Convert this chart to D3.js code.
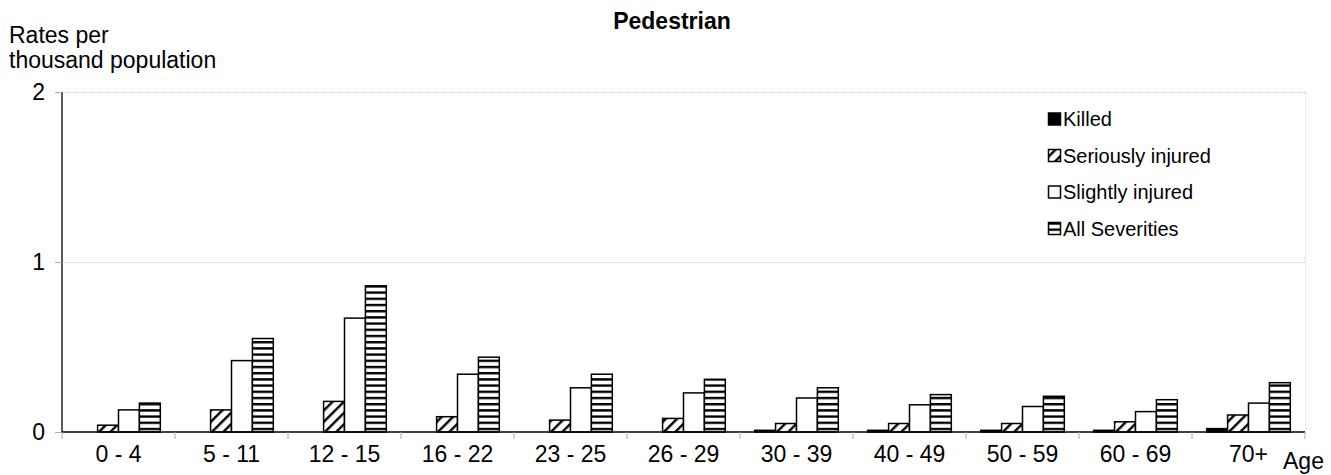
<!DOCTYPE html>
<html>
<head>
<meta charset="utf-8">
<script src="https://d3js.org/d3.v7.min.js"></script>
<style>
  body { margin: 0; background: #fff; }
  svg { font-family: 'Liberation Sans', Arial, sans-serif; }
</style>
</head>
<body>
<div id="chart"></div>
<script>
// age bands and rates per thousand population
var ages = ["0 - 4", "5  - 11", "12 - 15", "16 - 22", "23 - 25", "26 - 29", "30 - 39", "40 - 49", "50 - 59", "60 - 69", "70+"];
var seriesNames = ["Killed", "Seriously injured", "Slightly injured", "All Severities"];
var killed   = [0.00, 0.00, 0.00, 0.00, 0.00, 0.00, 0.01, 0.01, 0.01, 0.01, 0.02];
var serious  = [0.04, 0.13, 0.18, 0.09, 0.07, 0.08, 0.05, 0.05, 0.05, 0.06, 0.10];
var slight   = [0.13, 0.42, 0.67, 0.34, 0.26, 0.23, 0.20, 0.16, 0.15, 0.12, 0.17];
var allSev   = [0.17, 0.55, 0.86, 0.44, 0.34, 0.31, 0.26, 0.22, 0.21, 0.19, 0.29];
var yTicks = [0, 1, 2];

var series = [killed, serious, slight, allSev];
var fills = ["#000", "url(#hatch)", "#fff", "url(#stripes)"];

var W = 1331, H = 475;
var plotL = 62, plotR = 1305, plotT = 92, plotB = 432;
var fs = 23;

var svg = d3.select("#chart").append("svg").attr("width", W).attr("height", H);

var defs = svg.append("defs");
var hatch = defs.append("pattern").attr("id", "hatch").attr("patternUnits", "userSpaceOnUse")
    .attr("width", 8).attr("height", 8).attr("patternTransform", "rotate(45)");
hatch.append("rect").attr("width", 8).attr("height", 8).attr("fill", "#fff");
hatch.append("rect").attr("x", 0).attr("width", 2.4).attr("height", 8).attr("fill", "#000");

var stripes = defs.append("pattern").attr("id", "stripes").attr("patternUnits", "userSpaceOnUse")
    .attr("width", 6).attr("height", 6.2);
stripes.append("rect").attr("width", 6).attr("height", 6.2).attr("fill", "#fff");
stripes.append("rect").attr("y", 0).attr("width", 6).attr("height", 2.4).attr("fill", "#000");

var x0 = d3.scaleBand().domain(ages).range([plotL, plotR]).paddingInner(0.26).paddingOuter(0.13);
var x1 = d3.scaleBand().domain(d3.range(seriesNames.length)).range([0, x0.bandwidth()]);
var y = d3.scaleLinear().domain([0, 2]).range([plotB, plotT]);

// gridlines
svg.append("g").selectAll("line").data(yTicks.filter(function (d) { return d > 0; })).join("line")
    .attr("x1", plotL).attr("x2", plotR)
    .attr("y1", function (d) { return y(d) + 0.5; }).attr("y2", function (d) { return y(d) + 0.5; })
    .attr("stroke", "#c8c8c8").attr("stroke-dasharray", "1,1");
svg.append("line").attr("x1", plotR + 0.5).attr("x2", plotR + 0.5).attr("y1", plotT).attr("y2", plotB)
    .attr("stroke", "#d8d8d8").attr("stroke-dasharray", "1,1");

// bars
var groups = svg.append("g").selectAll("g").data(ages).join("g")
    .attr("transform", function (d) { return "translate(" + x0(d) + ",0)"; });
groups.selectAll("rect").data(function (d, i) {
    return series.map(function (s, k) { return { k: k, v: s[i] }; });
}).join("rect")
    .attr("x", function (d) { return x1(d.k); })
    .attr("width", x1.bandwidth())
    .attr("y", function (d) { return y(d.v); })
    .attr("height", function (d) { return plotB - y(d.v); })
    .attr("fill", function (d) { return fills[d.k]; })
    .attr("stroke", function (d) { return d.v > 0 ? "#000" : "none"; })
    .attr("stroke-width", 1.5);

// y axis
var yAxis = svg.append("g").attr("transform", "translate(" + plotL + ",0)")
    .call(d3.axisLeft(y).tickValues(yTicks).tickFormat(d3.format("d")).tickSize(7).tickPadding(10));
yAxis.select(".domain").attr("stroke", "#000").attr("stroke-width", 1.3).attr("d", "M0," + plotT + "V" + plotB);
yAxis.selectAll(".tick line").attr("stroke", "#aaa");
yAxis.selectAll("text").attr("font-size", fs).attr("fill", "#000").attr("font-family", "'Liberation Sans', Arial, sans-serif");

// x axis
var xAxis = svg.append("g").attr("transform", "translate(0," + plotB + ")")
    .call(d3.axisBottom(x0).tickSize(0).tickPadding(14));
xAxis.select(".domain").attr("stroke", "#000").attr("stroke-width", 1.3).attr("d", "M" + plotL + ",0H" + plotR);
xAxis.selectAll("text").attr("font-size", fs).attr("fill", "#000").attr("font-family", "'Liberation Sans', Arial, sans-serif");
var bounds = d3.range(ages.length + 1).map(function (i) { return plotL + i * x0.step(); });
xAxis.append("g").selectAll("line").data(bounds).join("line")
    .attr("x1", function (d) { return d; }).attr("x2", function (d) { return d; })
    .attr("y1", 0).attr("y2", 7).attr("stroke", "#aaa");

// titles
svg.append("text").attr("x", 672).attr("y", 29).attr("text-anchor", "middle")
    .attr("font-size", fs).attr("font-weight", "bold").text("Pedestrian");
var yt = svg.append("text").attr("font-size", fs);
yt.append("tspan").attr("x", 9).attr("y", 43).text("Rates per");
yt.append("tspan").attr("x", 9).attr("y", 68).text("thousand population");
svg.append("text").attr("x", 1283).attr("y", 469).attr("font-size", fs).text("Age");

// legend
var legend = svg.append("g").selectAll("g").data(seriesNames).join("g")
    .attr("transform", function (d, i) { return "translate(1048," + (119 + i * 36.5) + ")"; });
legend.append("rect").attr("x", 0.5).attr("y", -6).attr("width", 12).attr("height", 12)
    .attr("fill", function (d, i) { return fills[i]; }).attr("stroke", "#000").attr("stroke-width", 1.5);
legend.append("text").attr("x", 15).attr("y", 7).attr("font-size", 20).text(function (d) { return d; });
</script>
</body>
</html>
